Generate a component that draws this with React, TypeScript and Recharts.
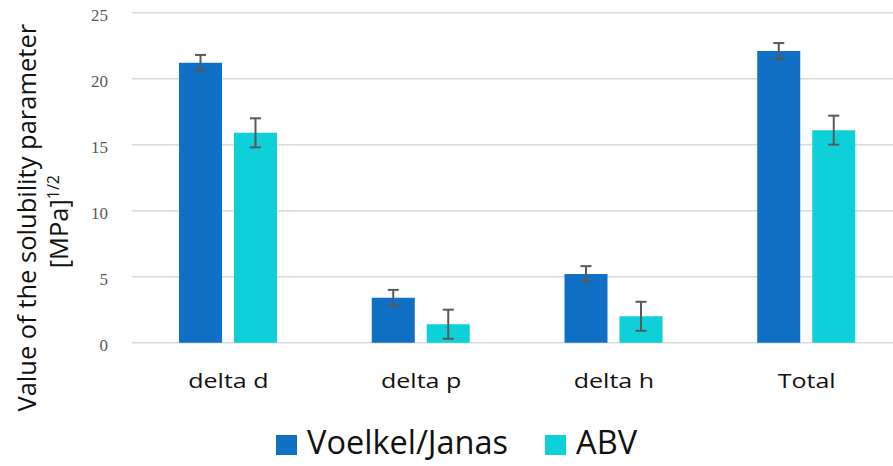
import React from "react";
import {
  BarChart,
  Bar,
  XAxis,
  YAxis,
  CartesianGrid,
  ErrorBar,
  Legend,
} from "recharts";

const categories = ["delta d", "delta p", "delta h", "Total"];
const voelkelValues = [21.2, 3.4, 5.2, 22.1];
const voelkelErrors = [0.6, 0.6, 0.6, 0.6];
const abvValues = [15.9, 1.4, 2.0, 16.1];
const abvErrors = [1.1, 1.1, 1.1, 1.1];
const yTicks = [0, 5, 10, 15, 20, 25];
const seriesOrder = ["Voelkel/Janas", "ABV"];

const BLUE = "#1070C5";
const CYAN = "#0ED0D8";
const ERR = "#595959";

const data = categories.map((name, i) => ({
  name,
  voelkel: voelkelValues[i],
  voelkelErr: voelkelErrors[i],
  abv: abvValues[i],
  abvErr: abvErrors[i],
}));

const XTick = ({ x, y, payload }: any) => (
  <text
    transform={`translate(${x},${y}) scale(1.25,1)`}
    y={45.3}
    textAnchor="middle"
    fontSize={20}
    fontFamily="Open Sans"
    fill="#111"
  >
    {payload.value}
  </text>
);

const YTick = ({ x, y, payload }: any) => (
  <text
    x={x}
    y={y}
    dy={8}
    textAnchor="end"
    fontSize={17}
    fontFamily="Liberation Serif"
    fill="#595959"
  >
    {payload.value}
  </text>
);

const YLabel = ({ viewBox }: any) => {
  const midY = viewBox.y + viewBox.height / 2;
  const c1 = midY + 40;
  const c2 = midY + 44;
  return (
    <g fontFamily="Open Sans" fill="#111">
      <text
        x={36}
        y={c1}
        transform={`rotate(-90 36 ${c1})`}
        textAnchor="middle"
        fontSize={25.5}
      >
        Value of the solubility parameter
      </text>
      <text
        x={68}
        y={c2}
        transform={`rotate(-90 68 ${c2})`}
        textAnchor="middle"
        fontSize={25.5}
      >
        [MPa]
        <tspan fontSize={16} dy={-9}>
          1/2
        </tspan>
      </text>
    </g>
  );
};

const LegendContent = ({ payload }: any) => {
  const items = seriesOrder
    .map((name) => (payload || []).find((p: any) => p.value === name))
    .filter(Boolean);
  return (
    <div style={{ display: "flex", alignItems: "flex-start", fontFamily: "Open Sans" }}>
      {items.map((item: any, i: number) => (
        <div
          key={item.value}
          style={{ display: "flex", alignItems: "flex-start", marginRight: i === 0 ? 37 : 0 }}
        >
          <span
            style={{
              display: "inline-block",
              width: 21,
              height: 20,
              marginTop: 8.5,
              marginRight: 10,
              background: item.color,
            }}
          />
          <span style={{ fontSize: 32.5, lineHeight: 1, color: "#111" }}>{item.value}</span>
        </div>
      ))}
    </div>
  );
};

export default function App() {
  return (
    <div
      style={{
        position: "fixed",
        top: 0,
        left: 0,
        width: 893,
        height: 466,
        overflow: "hidden",
        background: "#fff",
      }}
    >
      <BarChart
        width={904}
        height={466}
        data={data}
        margin={{ top: 12.7, right: 1, bottom: 63.3, left: 0 }}
        barSize={43}
        barGap={12}
      >
        <CartesianGrid vertical={false} stroke="#d9d9d9" strokeWidth={1.4} />
        <XAxis
          dataKey="name"
          height={60}
          axisLine={false}
          tickLine={false}
          tickSize={0}
          tickMargin={0}
          interval={0}
          tick={<XTick />}
        />
        <YAxis
          width={132}
          domain={[0, 25]}
          ticks={yTicks}
          axisLine={false}
          tickLine={false}
          tickSize={0}
          tickMargin={24}
          tick={<YTick />}
          label={<YLabel />}
        />
        <Legend
          layout="horizontal"
          align="center"
          verticalAlign="middle"
          wrapperStyle={{ top: 426, left: 276, width: "auto" }}
          content={<LegendContent />}
        />
        <Bar dataKey="voelkel" name="Voelkel/Janas" fill={BLUE} isAnimationActive={false}>
          <ErrorBar dataKey="voelkelErr" width={5.5} stroke={ERR} strokeWidth={2} isAnimationActive={false} />
        </Bar>
        <Bar dataKey="abv" name="ABV" fill={CYAN} isAnimationActive={false}>
          <ErrorBar dataKey="abvErr" width={5.5} stroke={ERR} strokeWidth={2} isAnimationActive={false} />
        </Bar>
      </BarChart>
    </div>
  );
}
